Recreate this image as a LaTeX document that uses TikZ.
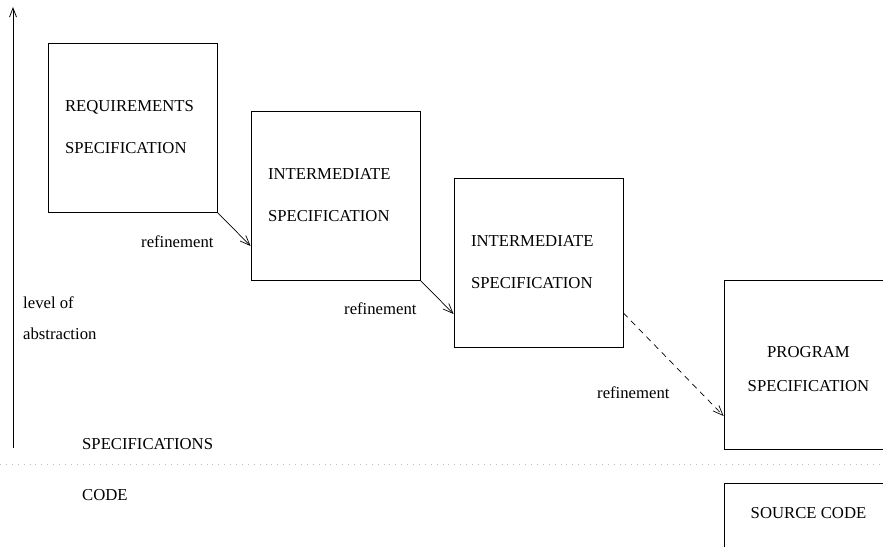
\documentclass[tikz,border=0pt]{standalone}
\usepackage{fontspec}
\setmainfont{Liberation Serif}
\usetikzlibrary{arrows.meta}

\begin{document}
\begin{tikzpicture}
  [x=1pt, y=-1pt,
  every node/.style={font=\fontsize{16.7}{42}\selectfont},
  specbox/.style={draw, line width=0.8pt, minimum width=169pt, minimum height=169pt,
    text width=135pt, inner xsep=17pt, inner ysep=0pt},
  lbl/.style={anchor=base west, inner sep=0pt},
  refine/.style={line width=0.7pt, -{Straight Barb[length=10pt,width=8pt]}},
  divider/.style={gray!50, line width=0.9pt, dash pattern=on 0.9pt off 5pt}]
  \useasboundingbox (0,0) rectangle (883,546);
  \node[specbox, align=left] (req) at (132.5,127.5) {REQUIREMENTS\\SPECIFICATION};
  \node[specbox, align=left] (interA) at (335.5,195.5) {INTERMEDIATE\\SPECIFICATION};
  \node[specbox, align=left] (interB) at (538.5,262.5) {INTERMEDIATE\\SPECIFICATION};
  \node[specbox, align=center, font=\fontsize{16.7}{34}\selectfont] (prog) at (808.5,364.5)
    {\rule{0pt}{21pt}PROGRAM\\SPECIFICATION};
  \node[specbox, minimum height=80pt, anchor=north west] (srcbox) at (724,483) {};
  \node[anchor=base, inner sep=0pt] (src) at (808.5,518) {SOURCE CODE};
  \node[lbl] (refA) at (141,247) {refinement};
  \node[lbl] (refB) at (344,314) {refinement};
  \node[lbl] (refC) at (597,398) {refinement};
  \node[lbl] (levelA) at (23,308) {level of};
  \node[lbl] (levelB) at (23,339) {abstraction};
  \node[lbl] (specs) at (82,449) {SPECIFICATIONS};
  \node[lbl] (code) at (82,500) {CODE};
  \coordinate (axisbot) at (13,448);
  \coordinate (axistop) at (13,7);
  \coordinate (divl) at (0,464);
  \coordinate (divr) at (883,464);
  \draw[line width=0.8pt, -{Straight Barb[length=9pt,width=7pt]}] (axisbot) -- (axistop);
  \draw[divider] (divl) -- (divr);
  \draw[refine] (req.south east) -- (interA.west |- 0,246);
  \draw[refine] (interA.south east) -- (interB.west |- 0,314);
  \draw[refine, dash pattern=on 6pt off 5pt] (interB.east |- 0,313) -- (prog.west |- 0,416);
\end{tikzpicture}
\end{document}
